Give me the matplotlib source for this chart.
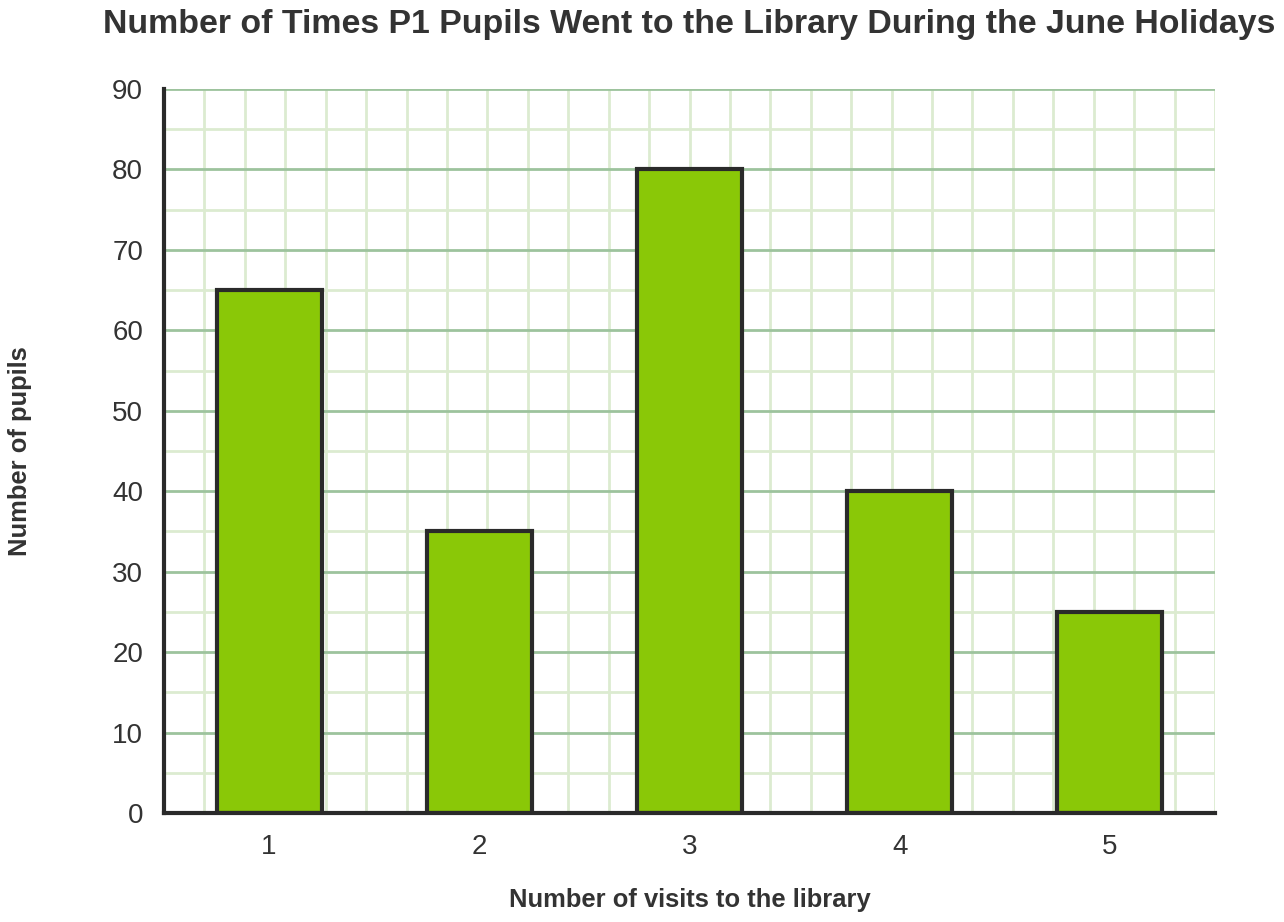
import matplotlib
matplotlib.use("Agg")
import matplotlib.pyplot as plt
import numpy as np

categories = ["1", "2", "3", "4", "5"]
pupils = [65, 35, 80, 40, 25]
y_ticks = [0, 10, 20, 30, 40, 50, 60, 70, 80, 90]

plt.rcParams['font.family'] = ['Liberation Sans', 'DejaVu Sans']

W, H = 1284, 922
fig = plt.figure(figsize=(W/100, H/100), dpi=100)
ax = fig.add_axes([164/W, 1 - 813/H, (1215-164)/W, (813-89)/H])

x = np.arange(1, len(categories) + 1)
ax.set_xlim(0.5, len(categories) + 0.5)
ax.set_ylim(0, 90)

# minor vertical grid
for v in np.linspace(0.5, len(categories) + 0.5, 27)[1:]:
    ax.axvline(v, color='#dcebd0', lw=2, zorder=0.5)
# horizontal grid
for h in np.arange(5, 91, 10):
    ax.axhline(h, color='#dcebd0', lw=2, zorder=0.6)
for h in np.arange(10, 91, 10):
    ax.axhline(h, color='#9dc39d', lw=2, zorder=0.7)

ax.bar(x, pupils, width=0.5, color='#8ac807', edgecolor='#2a2a2a', linewidth=3, zorder=2)

ax.set_xticks(x)
ax.set_xticklabels(categories)
ax.set_yticks(y_ticks)
ax.tick_params(axis='both', length=0, labelsize=20, colors='#333333')
ax.tick_params(axis='y', pad=15)
ax.tick_params(axis='x', pad=15)

for s in ['top', 'right']:
    ax.spines[s].set_visible(False)
for s in ['left', 'bottom']:
    ax.spines[s].set_color('#2a2a2a')
    ax.spines[s].set_linewidth(3)
    ax.spines[s].set_zorder(3)

fig.text(689.5/W, 1 - 24/H,
         "Number of Times P1 Pupils Went to the Library During the June Holidays",
         fontsize=24.4, fontweight='bold', color='#333333', ha='center', va='center')
fig.text(690/W, 1 - 900/H, "Number of visits to the library", fontsize=18.4,
         fontweight='bold', color='#333333', ha='center', va='center')
fig.text(20/W, 1 - 451/H, "Number of pupils", fontsize=18.4, fontweight='bold',
         color='#333333', ha='center', va='center', rotation=90)

fig.savefig("out.png", dpi=100)
